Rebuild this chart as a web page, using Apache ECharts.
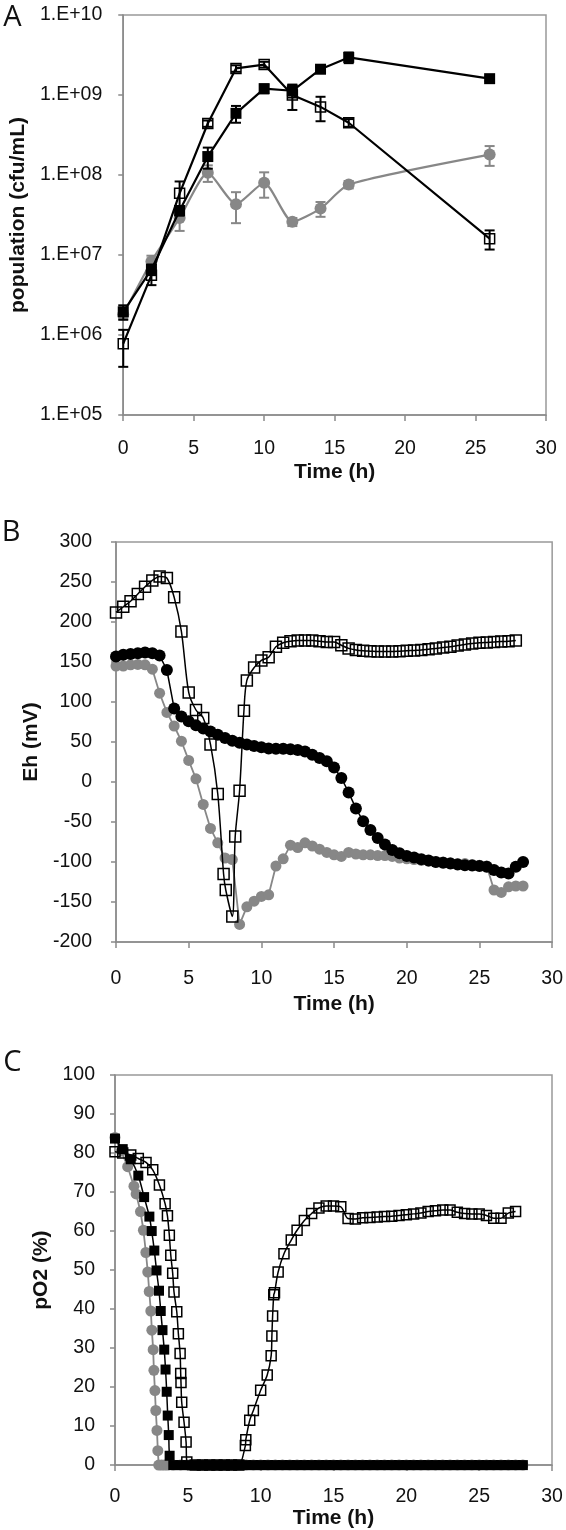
<!DOCTYPE html>
<html>
<head>
<meta charset="utf-8">
<script src="https://cdn.jsdelivr.net/npm/echarts@6/dist/echarts.min.js"></script>
<style>
html,body{margin:0;padding:0;background:#fff;}
#chart{width:566px;height:1530px;}
</style>
</head>
<body>
<div id="chart"></div>
<script>
// ---------- Panel A : population (cfu/mL) ----------
const A_time = [0, 2, 4, 6, 8, 10, 12, 14, 16, 26];
const A_filled = [1.95e6, 6.6e6, 3.6e7, 1.7e8, 5.9e8, 1.2e9, 1.13e9, 2.1e9, 2.95e9, 1.6e9];
const A_filled_err = [4e5, 1e6, 5e6, 5e7, 1.4e8, 1.5e8, 2e8, 1.5e8, 4.5e8, 1e8];
const A_open = [7.8e5, 5.6e6, 5.9e7, 4.4e8, 2.15e9, 2.4e9, 1.0e9, 7.1e8, 4.5e8, 1.6e7];
const A_open_err = [3.8e5, 1.4e6, 2.4e7, 4e7, 2e8, 2e8, 3.5e8, 2.4e8, 5e7, 4.3e6];
const A_gray = [1.8e6, 8.3e6, 2.9e7, 1.07e8, 4.3e7, 8.0e7, 2.6e7, 3.8e7, 7.6e7, 1.8e8];
const A_gray_err = [2e5, 1.5e6, 9e6, 2.5e7, 1.8e7, 2.8e7, 3e6, 8e6, 8e6, 5e7];

// ---------- Panel B : Eh (mV) ----------
const B_time = [0,0.5,1,1.5,2,2.5,3,3.5,4,4.5,5,5.5,6,6.5,7,7.5,8,8.5,9,9.5,10,10.5,11,11.5,12,12.5,13,13.5,14,14.5,15,15.5,16,16.5,17,17.5,18,18.5,19,19.5,20,20.5,21,21.5,22,22.5,23,23.5,24,24.5,25,25.5,26,26.5,27,27.5,28];
const B_black = [157,159,160,161,162,161,158,140,92,82,76,71,67,63,59,55,51.5,49,47,45,43.5,42,41.5,41.5,41,40,38,34,30,26,18,5,-13,-33,-49,-60,-70,-78,-85,-89,-92.5,-94.5,-96.5,-98,-100,-101,-102,-103,-104,-104.5,-105,-106,-110,-113,-114.5,-106,-100];
const B_gray = [145,145,146.5,147,146.5,141,111,87,70,51,27,4,-28,-58,-76,-95,-97,-178,-156,-149,-143,-141,-105,-96,-79,-82,-76,-80,-84,-88,-91,-93,-88,-90,-91,-91,-92,-92,-93,-95,-96,-97,-98,-99,-100,-100,-101,-102,-102,-103,-104,-105,-135,-138,-131,-130,-130];
const B_open_time = [0,0.5,1,1.5,2,2.5,3,3.5,4,4.5,5,5.5,6,6.5,7,7.4,7.55,8,8.2,8.5,8.8,9,9.5,10,10.5,11,11.5,12,12.5,13,13.5,14,14.5,15,15.5,16,16.5,17,17.5,18,18.5,19,19.5,20,20.5,21,21.5,22,22.5,23,23.5,24,24.5,25,25.5,26,26.5,27,27.5];
const B_open = [212,219,226,235,244,252,257,255,231,188,112,90,80,47,-15,-115,-135,-168,-68,-11,89,127,143,152,156,169,174,176,177,177,177,176,175,175,171,167,165,164,163.5,163,163,163,163.5,164,164.5,165,166,167,168,169,170.5,172,173,174,174.5,175,175.5,176,177];

// ---------- Panel C : pO2 (%) ----------
const C_black_time = [0,0.53,1.08,1.6,2.0,2.36,2.52,2.7,2.85,3.02,3.14,3.26,3.38,3.47,3.55,3.62,3.69,3.75,4,4.5,5,5.5,6,6.5,7,7.5,8,8.5,9,9.5,10,10.5,11,11.5,12,12.5,13,13.5,14,14.5,15,15.5,16,16.5,17,17.5,18,18.5,19,19.5,20,20.5,21,21.5,22,22.5,23,23.5,24,24.5,25,25.5,26,26.5,27,27.5,28];
const C_black = [83.7,81,78.4,74.2,68.7,63.7,60,55,49.9,44.7,39.5,34.6,29.6,24.5,18.8,12.7,7.7,2.4,0,0,0,0,0,0,0,0,0,0,0,0,0,0,0,0,0,0,0,0,0,0,0,0,0,0,0,0,0,0,0,0,0,0,0,0,0,0,0,0,0,0,0,0,0,0,0,0,0];
const C_gray_time = [0,0.43,0.87,1.3,1.45,1.75,1.95,2.12,2.25,2.35,2.46,2.53,2.62,2.67,2.74,2.8,2.88,2.94,3.0,3.2,3.4,3.6,4,4.5,5,5.5,6,6.5,7,7.5,8,8.5,9,9.5,10,10.5,11,11.5,12,12.5,13,13.5,14,14.5,15,15.5,16,16.5,17,17.5,18,18.5,19,19.5,20,20.5,21,21.5,22,22.5,23,23.5,24,24.5,25,25.5,26,26.5,27,27.5,28];
const C_gray = [84,80.5,76.5,71.5,69.5,65,60.2,54.5,49.5,44.5,39.5,34.6,29.6,24.3,19.1,14,8.9,3.7,0,0,0,0,0,0,0,0,0,0,0,0,0,0,0,0,0,0,0,0,0,0,0,0,0,0,0,0,0,0,0,0,0,0,0,0,0,0,0,0,0,0,0,0,0,0,0,0,0,0,0,0,0];
const C_open_time = [0,0.53,1.08,1.6,2.13,2.59,3.05,3.44,3.6,3.73,3.83,3.96,4.05,4.24,4.35,4.47,4.51,4.53,4.58,4.74,4.88,4.93,5.5,6,6.5,7,7.5,8,8.5,8.95,8.98,9.25,9.5,10,10.45,10.72,10.77,10.82,10.9,10.95,11.2,11.6,12.1,12.5,13,13.5,14,14.5,15,15.5,16,16.5,17,17.5,18,18.5,19,19.5,20,20.5,21,21.5,22,22.5,23,23.5,24,24.5,25,25.5,26,26.5,27,27.5];
const C_open = [80.3,80,79.5,78.6,77.6,75.7,71.8,67,63.9,58.9,53.8,49.2,44.4,39.3,33.7,28.6,23.5,21.2,16.1,11,5.9,0.8,0,0,0,0,0,0,0,5,6.5,11.5,14,19.2,23.1,28,33.1,38.2,43.7,44.2,49.5,54.2,57.7,60.2,62.7,64.5,65.9,66.4,66.4,66.2,63.2,63.1,63.4,63.5,63.6,63.7,63.8,64.0,64.2,64.4,64.6,65.0,65.2,65.4,65.4,64.8,64.5,64.4,64.4,64.0,63.3,63.3,64.6,65.0];

// ---------- styling ----------
const GRAY = '#878787';
const AXIS = '#8a8a8a';
const FONT = '"Liberation Sans", Arial, sans-serif';
const zip = (t, v) => t.map((x, i) => [x, v[i]]);
const errData = (t, v, e) => t.map((x, i) => [x, v[i] - e[i], v[i] + e[i]]);

function errSeries(data, color, z) {
  return {
    type: 'custom', xAxisIndex: 0, yAxisIndex: 0, z: z, clip: false,
    encode: { x: 0, y: [1, 2] },
    data: data,
    renderItem: function (params, api) {
      const x = api.value(0);
      const p1 = api.coord([x, api.value(2)]);
      const p2 = api.coord([x, api.value(1)]);
      const hw = 5;
      const st = { stroke: color, lineWidth: 2 };
      return { type: 'group', children: [
        { type: 'line', shape: { x1: p1[0], y1: p1[1], x2: p2[0], y2: p2[1] }, style: st },
        { type: 'line', shape: { x1: p1[0] - hw, y1: p1[1], x2: p1[0] + hw, y2: p1[1] }, style: st },
        { type: 'line', shape: { x1: p2[0] - hw, y1: p2[1], x2: p2[0] + hw, y2: p2[1] }, style: st }
      ]};
    }
  };
}

function xAx(grid, labelMargin, nameGap) {
  return {
    type: 'value', gridIndex: grid, min: 0, max: 30, interval: 5,
    axisLine: { show: true, onZero: false, lineStyle: { color: AXIS, width: 1.5 } },
    axisTick: { show: true, length: 6, lineStyle: { color: AXIS, width: 1.5 } },
    splitLine: { show: false },
    axisLabel: { color: '#111', fontSize: 19.5, fontFamily: FONT, margin: labelMargin },
    name: 'Time (h)', nameLocation: 'middle', nameGap: nameGap,
    nameTextStyle: { color: '#111', fontSize: 21, fontWeight: 'bold', fontFamily: FONT }
  };
}
function yBase(grid, name, labelMargin, nameGap) {
  return {
    gridIndex: grid,
    axisLine: { show: true, lineStyle: { color: AXIS, width: 1.5 } },
    axisTick: { show: true, length: 5, lineStyle: { color: AXIS, width: 1.5 } },
    splitLine: { show: false },
    axisLabel: { color: '#111', fontSize: 19.5, fontFamily: FONT, margin: labelMargin },
    name: name, nameLocation: 'middle', nameGap: nameGap, nameRotate: 90,
    nameTextStyle: { color: '#111', fontSize: 21, fontWeight: 'bold', fontFamily: FONT }
  };
}

const yA = Object.assign(yBase(0, 'population (cfu/mL)', 21, 86), {
  type: 'log', logBase: 10, min: 1e5, max: 1e10,
});
yA.axisLabel.formatter = function (v) {
  const e = Math.round(Math.log10(v));
  return '1.E+' + (e < 10 ? '0' + e : e);
};
const yB = Object.assign(yBase(1, 'Eh (mV)', 24, 62), { type: 'value', min: -200, max: 300, interval: 50 });
const yC = Object.assign(yBase(2, 'pO2 (%)', 20, 61), { type: 'value', min: 0, max: 100, interval: 10 });

const openSq = (size) => ({ symbol: 'rect', symbolSize: size, itemStyle: { color: 'rgba(255,255,255,0)', borderColor: '#000', borderWidth: 1.5 } });

const option = {
  animation: false,
  backgroundColor: '#fff',
  graphic: [
    { type: 'text', x: 12.5, y: 18, style: { text: 'A', font: 'normal 29px "Open Sans", sans-serif', fill: '#111', align: 'center', verticalAlign: 'middle' } },
    { type: 'text', x: 11, y: 533, style: { text: 'B', font: 'normal 29px "Open Sans", sans-serif', fill: '#111', align: 'center', verticalAlign: 'middle' } },
    { type: 'text', x: 12.5, y: 1063, style: { text: 'C', font: 'normal 29px "Open Sans", sans-serif', fill: '#111', align: 'center', verticalAlign: 'middle' } }
  ],
  grid: [
    { left: 111, top: 15, width: 435, height: 400, show: true, borderColor: '#999', borderWidth: 1.5 },
    { left: 116, top: 542, width: 437, height: 400, show: true, borderColor: '#999', borderWidth: 1.5 },
    { left: 115, top: 1075, width: 437, height: 393, show: true, borderColor: '#999', borderWidth: 1.5 }
  ],
  xAxis: [xAx(0, 24, 47), xAx(1, 27, 52), xAx(2, 22, 38)],
  yAxis: [yA, yB, yC],
  series: [
    // Panel A
    errSeries(errData(A_time, A_gray, A_gray_err), GRAY, 2),
    { type: 'line', xAxisIndex: 0, yAxisIndex: 0, z: 3, data: zip(A_time, A_gray), smooth: 0.2,
      symbol: 'circle', symbolSize: 12, itemStyle: { color: GRAY }, lineStyle: { color: GRAY, width: 2.2 } },
    errSeries(errData(A_time, A_open, A_open_err), '#000', 4),
    Object.assign({ type: 'line', xAxisIndex: 0, yAxisIndex: 0, z: 5, data: zip(A_time, A_open),
      lineStyle: { color: '#000', width: 2.2 } }, openSq(10)),
    errSeries(errData(A_time, A_filled, A_filled_err), '#000', 6),
    { type: 'line', xAxisIndex: 0, yAxisIndex: 0, z: 7, data: zip(A_time, A_filled),
      symbol: 'rect', symbolSize: 11, itemStyle: { color: '#000' }, lineStyle: { color: '#000', width: 2.2 } },

    // Panel B
    { type: 'line', xAxisIndex: 1, yAxisIndex: 1, z: 3, data: zip(B_time, B_gray),
      symbol: 'circle', symbolSize: 11, itemStyle: { color: GRAY }, lineStyle: { color: GRAY, width: 1.8 } },
    { type: 'line', xAxisIndex: 1, yAxisIndex: 1, z: 4, data: zip(B_time, B_black),
      symbol: 'circle', symbolSize: 12, itemStyle: { color: '#000' }, lineStyle: { color: '#000', width: 1.5 } },
    Object.assign({ type: 'line', xAxisIndex: 1, yAxisIndex: 1, z: 5, data: zip(B_open_time, B_open), smooth: 0.3,
      lineStyle: { color: '#000', width: 1.5 } }, openSq(11)),

    // Panel C
    { type: 'line', xAxisIndex: 2, yAxisIndex: 2, z: 3, data: zip(C_gray_time, C_gray),
      symbol: 'circle', symbolSize: 11, itemStyle: { color: GRAY }, lineStyle: { color: GRAY, width: 1.8 } },
    Object.assign({ type: 'line', xAxisIndex: 2, yAxisIndex: 2, z: 4, data: zip(C_open_time, C_open), smooth: 0.3,
      lineStyle: { color: '#000', width: 1.5 } }, openSq(10)),
    { type: 'line', xAxisIndex: 2, yAxisIndex: 2, z: 5, data: zip(C_black_time, C_black), smooth: 0.3,
      symbol: 'rect', symbolSize: 10, itemStyle: { color: '#000' }, lineStyle: { color: '#000', width: 1.5 } }
  ]
};

const chart = echarts.init(document.getElementById('chart'), null, { renderer: 'canvas', width: 566, height: 1530 });
chart.setOption(option);
</script>
</body>
</html>
